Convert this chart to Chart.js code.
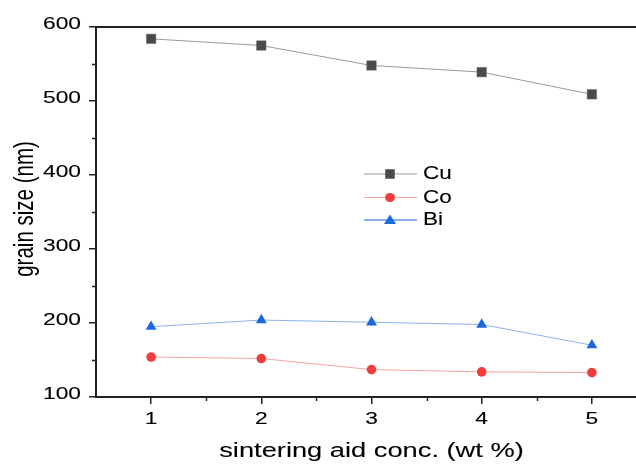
<!DOCTYPE html>
<html>
<head>
<meta charset="utf-8">
<script src="https://cdn.jsdelivr.net/npm/chart.js@4/dist/chart.umd.min.js"></script>
<style>
    html, body { margin: 0; padding: 0; background: #fff; overflow: hidden; }
    #wrap { width: 660px; height: 465px; }
</style>
</head>
<body>
<div id="wrap"><canvas id="grainChart" width="660" height="465"></canvas></div>
<script>
// Datos del gráfico
const concentrations = [1, 2, 3, 4, 5];
const cuSizes = [584, 575, 548, 539, 509];
const coSizes = [154, 152, 137, 134, 133];
const biSizes = [195, 204, 201, 198, 170];

const xTicks = [1, 2, 3, 4, 5];
const xMinorTicks = [1.5, 2.5, 3.5, 4.5];
const yTicks = [100, 200, 300, 400, 500, 600];
const yMinorTicks = [150, 250, 350, 450, 550];

const seriesNames = ['Cu', 'Co', 'Bi'];

const FONT = '"Liberation Sans", Arial, sans-serif';
const AXIS_COLOR = '#222';

function toPoints(values) {
    return concentrations.map((c, i) => ({ x: c, y: values[i] }));
}

// texto estirado en horizontal (la figura original está ensanchada)
function wideText(ctx, text, x, y, align, size, sx, baseline = 'middle') {
    ctx.save();
    ctx.font = size + 'px ' + FONT;
    ctx.textAlign = align;
    ctx.textBaseline = baseline;
    ctx.fillStyle = '#000';
    ctx.strokeStyle = 'rgba(0,0,0,0.5)';
    ctx.lineWidth = 0.2;
    ctx.translate(x, y);
    ctx.scale(sx, 1);
    ctx.fillText(text, 0, 0);
    ctx.strokeText(text, 0, 0);
    ctx.restore();
}

// Marcas menores, borde, etiquetas, títulos y leyenda
const decorPlugin = {
    id: 'decor',
    afterDraw(chart) {
        const ctx = chart.ctx;
        const area = chart.chartArea;
        const xs = chart.scales.x;
        const ys = chart.scales.y;

        ctx.save();
        ctx.strokeStyle = AXIS_COLOR;
        ctx.lineWidth = 1.5;

        // marcas menores
        xMinorTicks.forEach(v => {
            const px = Math.round(xs.getPixelForValue(v)) + 0.5;
            ctx.beginPath();
            ctx.moveTo(px, area.bottom);
            ctx.lineTo(px, area.bottom + 4);
            ctx.stroke();
        });
        yMinorTicks.forEach(v => {
            const py = Math.round(ys.getPixelForValue(v)) + 0.5;
            ctx.beginPath();
            ctx.moveTo(area.left, py);
            ctx.lineTo(area.left - 4, py);
            ctx.stroke();
        });

        // borde superior y derecho
        ctx.lineWidth = 2;
        ctx.beginPath();
        ctx.moveTo(area.left, area.top);
        ctx.lineTo(area.right, area.top);
        ctx.lineTo(area.right, area.bottom);
        ctx.stroke();

        // etiquetas de los ejes
        xTicks.forEach(v => {
            wideText(ctx, String(v), xs.getPixelForValue(v), 419, 'center', 17, 1.34);
        });
        yTicks.forEach(v => {
            wideText(ctx, String(v), 81, ys.getPixelForValue(v) - 2.5, 'right', 17, 1.34);
        });

        // títulos de ejes
        wideText(ctx, 'sintering aid conc. (wt %)', (area.left + area.right) / 2, 456.5, 'center', 20.5, 1.33, 'alphabetic');

        ctx.save();
        ctx.translate(33, 209);
        ctx.rotate(-Math.PI / 2);
        ctx.scale(1, 1.32);
        ctx.font = '20.5px ' + FONT;
        ctx.textAlign = 'center';
        ctx.textBaseline = 'alphabetic';
        ctx.fillStyle = '#000';
        ctx.fillText('grain size (nm)', 0, 0);
        ctx.restore();

        // leyenda
        const rows = [174, 197.5, 220];
        const lineWidths = [1, 1, 2];
        chart.data.datasets.forEach((ds, i) => {
            const y = rows[i];
            ctx.strokeStyle = ds.borderColor;
            ctx.lineWidth = lineWidths[i];
            ctx.beginPath();
            ctx.moveTo(364, y);
            ctx.lineTo(417, y);
            ctx.stroke();

            ctx.fillStyle = ds.pointBackgroundColor;
            ctx.beginPath();
            if (ds.pointStyle === 'rect') {
                ctx.rect(390 - 4.75, y - 4.75, 9.5, 9.5);
            } else if (ds.pointStyle === 'circle') {
                ctx.ellipse(390, y, 5, 4.5, 0, 0, Math.PI * 2);
            } else {
                ctx.moveTo(390, y - 5.5);
                ctx.lineTo(396, y + 4);
                ctx.lineTo(384, y + 4);
                ctx.closePath();
            }
            ctx.fill();

            wideText(ctx, ds.label, 423, y + 0.5, 'left', 18, 1.25);
        });
        ctx.restore();
    }
};

new Chart(document.getElementById('grainChart'), {
    type: 'line',
    data: {
        datasets: [
            {
                label: seriesNames[0],
                data: toPoints(cuSizes),
                borderColor: '#9a9a9a',
                borderWidth: 1,
                pointStyle: 'rect',
                pointRadius: 6.7,
                pointBackgroundColor: '#4a4a4a',
                pointBorderColor: '#6a6a6a',
                pointBorderWidth: 0.5,
                tension: 0
            },
            {
                label: seriesNames[1],
                data: toPoints(coSizes),
                borderColor: '#f5a3a3',
                borderWidth: 1,
                pointStyle: 'circle',
                pointRadius: 4.8,
                pointBackgroundColor: '#f03c3c',
                pointBorderColor: '#f03c3c',
                pointBorderWidth: 0,
                tension: 0
            },
            {
                label: seriesNames[2],
                data: toPoints(biSizes),
                borderColor: '#8cb3ee',
                borderWidth: 1,
                pointStyle: 'triangle',
                pointRadius: 6.3,
                pointBackgroundColor: '#1c68dc',
                pointBorderColor: '#1c68dc',
                pointBorderWidth: 0,
                tension: 0
            }
        ]
    },
    options: {
        responsive: false,
        animation: false,
        events: [],
        clip: false,
        layout: { padding: { left: 0, right: 13, top: 27, bottom: 0 } },
        plugins: {
            legend: { display: false },
            tooltip: { enabled: false }
        },
        scales: {
            x: {
                type: 'linear',
                min: 0.5,
                max: 5.5,
                afterBuildTicks: s => { s.ticks = xTicks.map(v => ({ value: v })); },
                afterFit: s => { s.height = 68; },
                grid: { drawOnChartArea: false, drawTicks: true, tickLength: 7, color: AXIS_COLOR, lineWidth: 1.5 },
                border: { display: true, color: AXIS_COLOR, width: 2 },
                ticks: { display: false }
            },
            y: {
                min: 100,
                max: 600,
                afterBuildTicks: s => { s.ticks = yTicks.map(v => ({ value: v })); },
                afterFit: s => { s.width = 96; },
                grid: { drawOnChartArea: false, drawTicks: true, tickLength: 7, color: AXIS_COLOR, lineWidth: 1.5 },
                border: { display: true, color: AXIS_COLOR, width: 2 },
                ticks: { display: false }
            }
        }
    },
    plugins: [decorPlugin]
});
</script>
</body>
</html>
